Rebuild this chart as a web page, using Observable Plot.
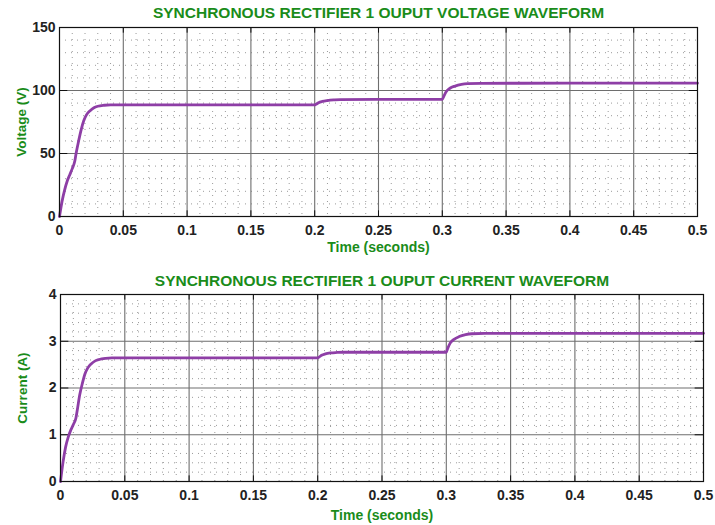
<!DOCTYPE html>
<html>
<head>
<meta charset="utf-8">
<script src="https://cdn.jsdelivr.net/npm/d3@7"></script>
<script src="https://cdn.jsdelivr.net/npm/@observablehq/plot@0.6"></script>
<style>
  html, body { margin: 0; padding: 0; background: #fff; }
  #chart { width: 715px; height: 525px; }
  #chart svg { display: block; }
</style>
</head>
<body>
<div id="chart"></div>
<script>
// ---- Data ----
const timeV = [0, 0.002, 0.004, 0.006, 0.008, 0.010, 0.012, 0.013, 0.015, 0.017, 0.019, 0.021, 0.024, 0.027, 0.030, 0.035, 0.040, 0.1, 0.15, 0.2, 0.201, 0.203, 0.206, 0.210, 0.215, 0.220, 0.25, 0.3, 0.301, 0.303, 0.306, 0.310, 0.315, 0.320, 0.330, 0.4, 0.45, 0.5];
const voltage = [0, 12, 21, 28, 33, 38, 44, 50, 60, 69, 76, 80.5, 84, 86.3, 87.5, 88.3, 88.6, 88.6, 88.6, 88.6, 89, 90.3, 91.3, 92, 92.5, 92.8, 92.9, 92.9, 95, 99, 101.8, 103.5, 104.8, 105.4, 105.7, 105.8, 105.8, 105.8];

const timeI = [0, 0.002, 0.004, 0.006, 0.008, 0.010, 0.012, 0.013, 0.015, 0.017, 0.019, 0.021, 0.024, 0.027, 0.030, 0.035, 0.040, 0.1, 0.15, 0.2, 0.201, 0.203, 0.206, 0.210, 0.215, 0.220, 0.25, 0.3, 0.301, 0.303, 0.306, 0.310, 0.315, 0.320, 0.330, 0.4, 0.45, 0.5];
const current = [0, 0.42, 0.74, 0.95, 1.10, 1.22, 1.36, 1.52, 1.86, 2.10, 2.30, 2.42, 2.52, 2.58, 2.61, 2.635, 2.645, 2.645, 2.645, 2.645, 2.66, 2.70, 2.73, 2.75, 2.76, 2.765, 2.765, 2.765, 2.84, 2.96, 3.04, 3.10, 3.14, 3.16, 3.17, 3.17, 3.17, 3.17];

const xTicks = [0, 0.05, 0.1, 0.15, 0.2, 0.25, 0.3, 0.35, 0.4, 0.45, 0.5];
const xTickLabels = ["0", "0.05", "0.1", "0.15", "0.2", "0.25", "0.3", "0.35", "0.4", "0.45", "0.5"];
const vTicks = [0, 50, 100, 150];
const iTicks = [0, 1, 2, 3, 4];

const titleV = "SYNCHRONOUS RECTIFIER 1 OUPUT VOLTAGE WAVEFORM";
const titleI = "SYNCHRONOUS RECTIFIER 1 OUPUT CURRENT WAVEFORM";
const xLabel = "Time (seconds)";
const yLabelV = "Voltage (V)";
const yLabelI = "Current (A)";

const green = "#1a8c1a";
const purple = "#8e3ea6";
const font = "Liberation Sans, Arial, sans-serif";

function panel({t, y, yTicks, yMax, minorY, title, yLabel, height, mt, mb, ml, mr, titleDy, tickDy, xLabelDy}) {
  const rows = t.map((d, i) => ({t: d, v: y[i]}));
  const minorX = d3.range(0, 0.5001, 0.01).map(d => +d.toFixed(3)).filter(d => !xTicks.some(m => Math.abs(m - d) < 1e-6));
  const minorYs = d3.range(0, yMax + 1e-9, minorY).map(d => +d.toFixed(3)).filter(d => !yTicks.some(m => Math.abs(m - d) < 1e-6));
  return Plot.plot({
    width: 715,
    height,
    marginTop: mt, marginBottom: mb, marginLeft: ml, marginRight: mr,
    style: {fontFamily: font, background: "#fff", overflow: "visible"},
    x: {domain: [0, 0.5], axis: null},
    y: {domain: [0, yMax], axis: null},
    marks: [
      Plot.ruleX(minorX, {stroke: "#9a9a9a", strokeWidth: 1, strokeDasharray: "1,5"}),
      Plot.ruleY(minorYs, {stroke: "#9a9a9a", strokeWidth: 1, strokeDasharray: "1,5"}),
      Plot.ruleX(xTicks.slice(1, -1), {stroke: "#6e6e6e", strokeWidth: 1.1}),
      Plot.ruleY(yTicks.slice(1, -1), {stroke: "#6e6e6e", strokeWidth: 1.1}),
      Plot.ruleY(yTicks, {y: d => d, x1: 0, x2: 0.0065, stroke: "#111"}),
      Plot.ruleY(yTicks, {y: d => d, x1: 0.4935, x2: 0.5, stroke: "#111"}),
      Plot.ruleX(xTicks, {x: d => d, y1: 0, y2: yMax * 0.03, stroke: "#111"}),
      Plot.ruleX(xTicks, {x: d => d, y1: yMax * 0.97, y2: yMax, stroke: "#111"}),
      Plot.line(rows, {x: "t", y: "v", stroke: purple, strokeWidth: 2.8, curve: "monotone-x", strokeLinejoin: "round"}),
      Plot.frame({stroke: "#111", strokeWidth: 1.2}),
      Plot.text(xTicks, {x: d => d, frameAnchor: "bottom", lineAnchor: "middle", dy: tickDy, text: (d, i) => xTickLabels[i], fontSize: 14, fontWeight: "bold", fill: "#222", textAnchor: "middle"}),
      Plot.text(yTicks, {y: d => d, frameAnchor: "left", lineAnchor: "middle", dx: -4, text: d => String(d), fontSize: 14, fontWeight: "bold", fill: "#222", textAnchor: "end"}),
      Plot.text([title], {frameAnchor: "top", lineAnchor: "middle", textAnchor: "middle", dy: titleDy, text: d => d, fontSize: 15.5, fontWeight: "bold", fill: green}),
      Plot.text([xLabel], {frameAnchor: "bottom", lineAnchor: "middle", textAnchor: "middle", dy: xLabelDy, text: d => d, fontSize: 14, fontWeight: "bold", fill: green}),
      Plot.text([yLabel], {frameAnchor: "left", lineAnchor: "middle", textAnchor: "middle", dx: -38, rotate: -90, text: d => d, fontSize: 13.5, fontWeight: "bold", fill: green})
    ]
  });
}

const topPanel = panel({t: timeV, y: voltage, yTicks: vTicks, yMax: 150, minorY: 10, title: titleV, yLabel: yLabelV,
  height: 262, mt: 27, mb: 46, ml: 59, mr: 18, titleDy: -14, tickDy: 14, xLabelDy: 31});
const bottomPanel = panel({t: timeI, y: current, yTicks: iTicks, yMax: 4, minorY: 0.2, title: titleI, yLabel: yLabelI,
  height: 263, mt: 32, mb: 44, ml: 60, mr: 12, titleDy: -13, tickDy: 14, xLabelDy: 34});

const chart = document.getElementById("chart");
chart.appendChild(topPanel);
chart.appendChild(bottomPanel);
</script>
</body>
</html>
